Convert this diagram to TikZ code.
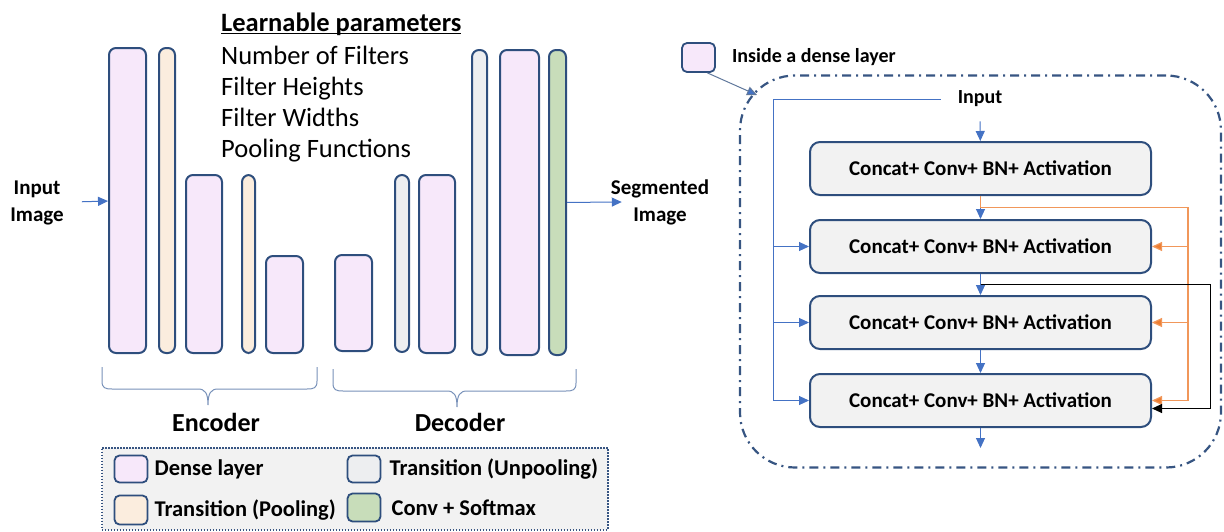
\documentclass[tikz,border=0pt]{standalone}
\usepackage{fontspec}
\setmainfont{Carlito}
\usetikzlibrary{arrows.meta, positioning, calc}

\definecolor{densefill}{RGB}{247,232,250}
\definecolor{poolfill}{RGB}{251,237,222}
\definecolor{unpoolfill}{RGB}{237,238,240}
\definecolor{softfill}{RGB}{200,221,186}
\definecolor{barline}{RGB}{46,78,125}
\definecolor{flowblue}{RGB}{68,114,196}
\definecolor{skiporange}{RGB}{237,125,49}
\definecolor{boxfill}{RGB}{242,242,242}
\definecolor{bracecol}{RGB}{120,145,185}
\definecolor{framecol}{RGB}{55,85,130}

\begin{document}
\begin{tikzpicture}[x=1pt, y=-1pt,
        layer/.style = {
            rectangle,
            draw=barline,
            line width=2pt,
            rounded corners=7pt,
            inner sep=0pt,
            anchor=south west
        },
        dense/.style = {layer, fill=densefill},
        pooling/.style = {layer, fill=poolfill},
        unpooling/.style = {layer, fill=unpoolfill},
        softmax/.style = {layer, fill=softfill},
        swatch/.style = {
            rectangle,
            draw=barline,
            line width=1.8pt,
            rounded corners=5pt,
            minimum width=33pt,
            minimum height=27pt,
            inner sep=0pt
        },
        boldtext/.style = {
            font = \fontsize{21}{27}\selectfont\bfseries,
            inner sep=2pt,
            align=center
        },
        legendtext/.style = {
            font = \fontsize{22.5}{26}\selectfont\bfseries,
            inner sep=2pt
        },
        stage/.style = {
            rectangle,
            draw=barline,
            line width=2pt,
            fill=boxfill,
            rounded corners=10pt,
            minimum width=341pt,
            minimum height=53pt,
            font = \fontsize{21}{25}\selectfont\bfseries
        },
        flow/.style = {-{Triangle[length=10pt, width=9pt]}, draw=flowblue, line width=1pt},
        skip/.style = {-{Triangle[length=10pt, width=9pt, fill=skiporange]}, draw=skiporange!80, line width=1.2pt},
        jump/.style = {-{Triangle[length=10pt, width=9pt]}, draw=black, line width=1pt},
        braceline/.style = {draw=bracecol, line width=1pt}
    ]
    \useasboundingbox (0,0) rectangle (1224,531);

    % encoder / decoder bars
    \node (enc1) [dense, minimum width=37pt, minimum height=305pt] at (108,354) {};
    \node (enc2) [pooling, minimum width=16pt, minimum height=305pt] at (158,354) {};
    \node (enc3) [dense, minimum width=36pt, minimum height=178pt] at (185,354) {};
    \node (enc4) [pooling, minimum width=13pt, minimum height=178pt] at (241,354) {};
    \node (enc5) [dense, minimum width=37pt, minimum height=97pt] at (265,354) {};
    \node (dec1) [dense, minimum width=37pt, minimum height=96pt] at (334,352) {};
    \node (dec2) [unpooling, minimum width=14pt, minimum height=177pt] at (394,353) {};
    \node (dec3) [dense, minimum width=36pt, minimum height=178pt] at (418,354) {};
    \node (dec4) [unpooling, minimum width=15pt, minimum height=305pt] at (471,356) {};
    \node (dec5) [dense, minimum width=39pt, minimum height=305pt] at (499,356) {};
    \node (dec6) [softmax, minimum width=17pt, minimum height=305pt] at (548,356) {};

    \node (inimg) [boldtext] at (37,203) {Input\\Image};
    \node (outimg) [boldtext] at (660,202) {Segmented\\Image};
    \draw[flow, shorten <=16pt] (inimg) -- (enc1);
    \draw[flow] (dec6) -- ([xshift=13pt]outimg.west);

    \node (params) [anchor=north west, inner sep=0pt, align=left,
        font=\fontsize{26.5}{31}\selectfont] at (221,13)
        {\underline{\raisebox{0pt}[\height][0pt]{\textbf{Learnable parameters}}}\\[2pt]
         Number of Filters\\ Filter Heights\\ Filter Widths\\ Pooling Functions};

    % braces
    \draw[braceline] (102,367) -- (102,381) .. controls (102,388) and (105,389) .. (112,389)
        -- (198,389) .. controls (205,389) and (208,393) .. (208,405)
        .. controls (208,393) and (211,389) .. (218,389)
        -- (307,389) .. controls (314,389) and (317,388) .. (317,381) -- (317,367);
    \draw[braceline] (333,369) -- (333,383) .. controls (333,390) and (336,391) .. (343,391)
        -- (447,391) .. controls (454,391) and (457,395) .. (457,407)
        .. controls (457,395) and (460,391) .. (467,391)
        -- (566,391) .. controls (573,391) and (576,390) .. (576,383) -- (576,369);
    \node (enclabel) [font=\fontsize{26}{30}\selectfont\bfseries] at (216,422) {Encoder};
    \node (declabel) [font=\fontsize{26}{30}\selectfont\bfseries] at (460,422) {Decoder};

    % legend
    \node (legend) [rectangle, draw=framecol, fill=boxfill, line width=1.5pt,
        dash pattern=on 1.5pt off 1.5pt, minimum width=506pt, minimum height=82pt,
        anchor=north west] at (101,447) {};
    \node (lgdense) [swatch, fill=densefill] at (131,469) {};
    \node (lgpool) [swatch, fill=poolfill, minimum height=29pt] at (131,510) {};
    \node (lgunpool) [swatch, fill=unpoolfill] at (364,469) {};
    \node (lgsoft) [swatch, fill=softfill, minimum height=28pt] at (364,507.5) {};
    \node [legendtext, right=4pt of lgdense] {Dense layer};
    \node [legendtext, right=4pt of lgpool] {Transition (Pooling)};
    \node [legendtext, right=6pt of lgunpool] {Transition (Unpooling)};
    \node [legendtext, right=8pt of lgsoft] {Conv + Softmax};

    % inside a dense layer
    \node (denseframe) [rectangle, draw=framecol, line width=2.2pt,
        dash pattern=on 9pt off 5pt on 2pt off 5pt, rounded corners=55pt,
        minimum width=481pt, minimum height=392pt] at (980.5,271.5) {};
    \node (insideswatch) [swatch, fill=densefill, minimum height=29pt] at (698.5,57.5) {};
    \node (insidetext) [boldtext, font=\fontsize{20}{24}\selectfont\bfseries,
        right=14pt of insideswatch] {Inside a dense layer};
    \coordinate (framecorner) at (757,95);
    \draw[-{Triangle[length=10pt, width=9pt, fill=flowblue]}, draw=framecol!80, line width=1pt]
        (insideswatch.-60) -- (framecorner);

    \node (inlayer) [boldtext, font=\fontsize{20}{24}\selectfont\bfseries] at (980,99) {Input};
    \node (box1) [stage] at (980.5,168.5) {Concat+ Conv+ BN+ Activation};
    \node (box2) [stage, below=23pt of box1] {Concat+ Conv+ BN+ Activation};
    \node (box3) [stage, below=21pt of box2] {Concat+ Conv+ BN+ Activation};
    \node (box4) [stage, below=23pt of box3] {Concat+ Conv+ BN+ Activation};

    \coordinate (bustop) at (773,99);
    \coordinate (layerout) at ([yshift=-20pt]box4.south);
    \draw[flow] ([xshift=-15pt]inlayer.west) -- (bustop) |- (box4.west);
    \draw[flow] (bustop |- box2.west) -- (box2.west);
    \draw[flow] (bustop |- box3.west) -- (box3.west);
    \draw[flow, shorten <=12pt] (inlayer) -- (box1);
    \draw[flow] (box1) -- (box2);
    \draw[flow] (box2) -- (box3);
    \draw[flow] (box3) -- (box4);
    \draw[flow] (box4) -- (layerout);

    % skip connections
    \coordinate (osplit) at ($(box1.south)!.5!(box2.north)$);
    \coordinate (orail) at ([xshift=36pt]box2.east |- osplit);
    \draw[skip] (box1.south) -- (osplit) -| (orail |- box4.east) -- (box4.east);
    \draw[skip] (orail |- box2.east) -- (box2.east);
    \draw[skip] (orail |- box3.east) -- (box3.east);

    \coordinate (bsplit) at ($(box2.south)!.5!(box3.north)$);
    \coordinate (bturn) at ([xshift=58pt, yshift=-8pt]box4.east);
    \draw[jump] (bsplit) -| (bturn) -- (bturn -| box4.east);
\end{tikzpicture}
\end{document}
